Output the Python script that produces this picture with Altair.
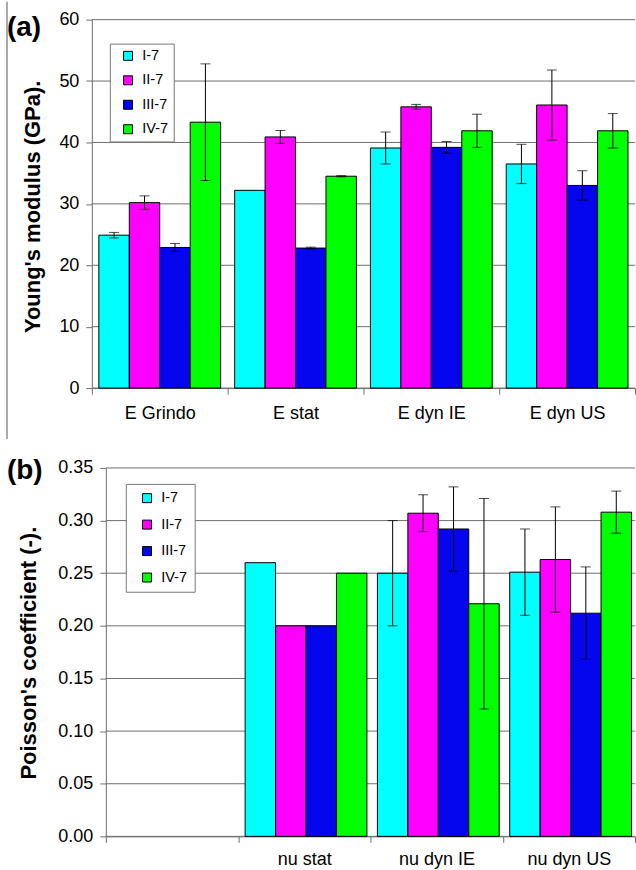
import altair as alt
import pandas as pd

FONT = "Liberation Sans"
LINE = "#6e6e6e"

SERIES = ["I-7", "II-7", "III-7", "IV-7"]
COLORS = ["#00FFFF", "#FF00FF", "#0505EE", "#00FF00"]

# (a) Young's modulus (GPa)
E_CATS = ["E Grindo", "E stat", "E dyn IE", "E dyn US"]
E_I7 = [24.9, 32.2, 39.1, 36.5]
E_I7_ERR = [0.45, 0.0, 2.6, 3.2]
E_II7 = [30.2, 40.9, 45.8, 46.1]
E_II7_ERR = [1.1, 1.05, 0.4, 5.7]
E_III7 = [22.9, 22.8, 39.2, 33.0]
E_III7_ERR = [0.65, 0.15, 0.95, 2.4]
E_IV7 = [43.3, 34.5, 41.9, 41.9]
E_IV7_ERR = [9.5, 0.1, 2.7, 2.8]
E_TICKS = [0, 10, 20, 30, 40, 50, 60]

# (b) Poisson's coefficient (-)
NU_CATS = ["(empty)", "nu stat", "nu dyn IE", "nu dyn US"]
NU_I7 = [None, 0.260, 0.250, 0.251]
NU_I7_ERR = [None, 0.0, 0.050, 0.041]
NU_II7 = [None, 0.200, 0.307, 0.263]
NU_II7_ERR = [None, 0.0, 0.0175, 0.050]
NU_III7 = [None, 0.200, 0.292, 0.212]
NU_III7_ERR = [None, 0.0, 0.040, 0.044]
NU_IV7 = [None, 0.250, 0.221, 0.308]
NU_IV7_ERR = [None, 0.0, 0.100, 0.020]
NU_TICKS = [0.0, 0.05, 0.10, 0.15, 0.20, 0.25, 0.30, 0.35]

W = 544
H = 369


def build(cats, vals, errs):
    rows = []
    for s, v_list, e_list in zip(SERIES, vals, errs):
        for c, v, e in zip(cats, v_list, e_list):
            if v is None:
                continue
            rows.append({"cat": c, "series": s, "value": v, "err": e,
                         "lo": v - e, "hi": v + e})
    return pd.DataFrame(rows)


df_e = build(E_CATS, [E_I7, E_II7, E_III7, E_IV7],
             [E_I7_ERR, E_II7_ERR, E_III7_ERR, E_IV7_ERR])
df_nu = build(NU_CATS, [NU_I7, NU_II7, NU_III7, NU_IV7],
              [NU_I7_ERR, NU_II7_ERR, NU_III7_ERR, NU_IV7_ERR])


def panel(df, cats, ymax, ticks, fmt, ytitle, x0, title_x, title_y,
          tag, tag_y, lx, ly, lrow, lpad, loff, xlabpad, border_end=None):
    x_enc = alt.X("cat:N", scale=alt.Scale(domain=cats, range=[x0, W],
                                           paddingInner=0, paddingOuter=0),
                  axis=alt.Axis(title=None, tickBand="extent", labelAngle=0,
                                labelFontSize=18, labelFont=FONT, labelColor="black",
                                labelPadding=xlabpad, tickSize=6, tickColor=LINE,
                                domainColor=LINE, grid=False,
                                labelExpr="datum.value == '(empty)' ? '' : datum.value"))
    xo = alt.XOffset("series:N", scale=alt.Scale(domain=SERIES, paddingInner=0,
                                                 paddingOuter=0.23))
    y_scale = alt.Scale(domain=[0, ymax], nice=False, zero=True)
    y_enc = alt.Y("value:Q", scale=y_scale,
                  axis=alt.Axis(values=ticks, format=fmt, grid=False, offset=-x0,
                                domainColor=LINE, tickColor=LINE, tickSize=6,
                                labelPadding=7, labelFontSize=18, labelFont=FONT,
                                labelColor="black",
                                title=ytitle, titleFontSize=22, titleFontWeight="bold",
                                titleFont=FONT, titleColor="black",
                                titleX=title_x, titleY=title_y, titleBaseline="middle"))
    color = alt.Color("series:N", scale=alt.Scale(domain=SERIES, range=COLORS),
                      legend=alt.Legend(orient="none", legendX=lx, legendY=ly, title=None,
                                        symbolType="square", symbolSize=81,
                                        symbolStrokeColor="black", symbolStrokeWidth=1,
                                        labelFontSize=14.5, labelFont=FONT,
                                        labelColor="black",
                                        rowPadding=lrow, padding=lpad, symbolOffset=loff,
                                        labelOffset=7, strokeColor="#777777",
                                        fillColor="white"))
    grid = alt.Chart(pd.DataFrame({"t": ticks})).mark_rule(
        color=LINE, strokeWidth=1).encode(
        y=alt.Y("t:Q"), x=alt.value(x0), x2=alt.value(W))
    bars = alt.Chart(df).mark_bar(stroke="black", strokeWidth=1).encode(
        x=x_enc, xOffset=xo, y=y_enc, color=color)
    eb = df[df["err"] > 0]
    rules = alt.Chart(eb).mark_rule(color="black", strokeWidth=1).encode(
        x=alt.X("cat:N"), xOffset=alt.XOffset("series:N"),
        y=alt.Y("lo:Q"), y2="hi:Q")
    cap_hi = alt.Chart(eb).mark_tick(color="black", thickness=1, size=10).encode(
        x=alt.X("cat:N"), xOffset=alt.XOffset("series:N"), y=alt.Y("hi:Q"))
    cap_lo = alt.Chart(eb).mark_tick(color="black", thickness=1, size=10).encode(
        x=alt.X("cat:N"), xOffset=alt.XOffset("series:N"), y=alt.Y("lo:Q"))
    label = alt.Chart(pd.DataFrame({"tag": [tag]})).mark_text(
        align="left", baseline="middle", fontSize=28, fontWeight="bold",
        font=FONT, color="black").encode(
        x=alt.value(-85), y=alt.value(tag_y), text="tag:N")
    # left frame line of the figure (visible in panel a), transparent in panel b
    frame = alt.Chart(pd.DataFrame({"k": [0]})).mark_rule(
        color="#555555", strokeWidth=1,
        strokeOpacity=1 if border_end is not None else 0).encode(
        x=alt.value(-85), y=alt.value(-18),
        y2=alt.value(border_end if border_end is not None else 0))
    return alt.layer(grid, bars, rules, cap_hi, cap_lo, label, frame).properties(
        width=W, height=H)


top = panel(df_e, E_CATS, 60, E_TICKS, "d", "Young's modulus (GPa).", 0,
            -59, 187, "(a)", 8, 18, 24, 9.5, 5, 6, 10, border_end=420)
bottom = panel(df_nu, NU_CATS, 0.35, NU_TICKS, ".2f", "Poisson's coefficient (-).", 14,
               -77, 185, "(b)", 3, 34, 16, 11.5, 7, 7, 8)

chart = alt.vconcat(top, bottom, spacing=10).resolve_scale(
    color="independent").resolve_legend(color="independent").configure(
    padding={"left": 6, "top": 0, "right": 0, "bottom": 0}, font=FONT).configure_view(
    strokeWidth=0)

chart.save("out.html", embed_options={"renderer": "svg", "actions": False})
